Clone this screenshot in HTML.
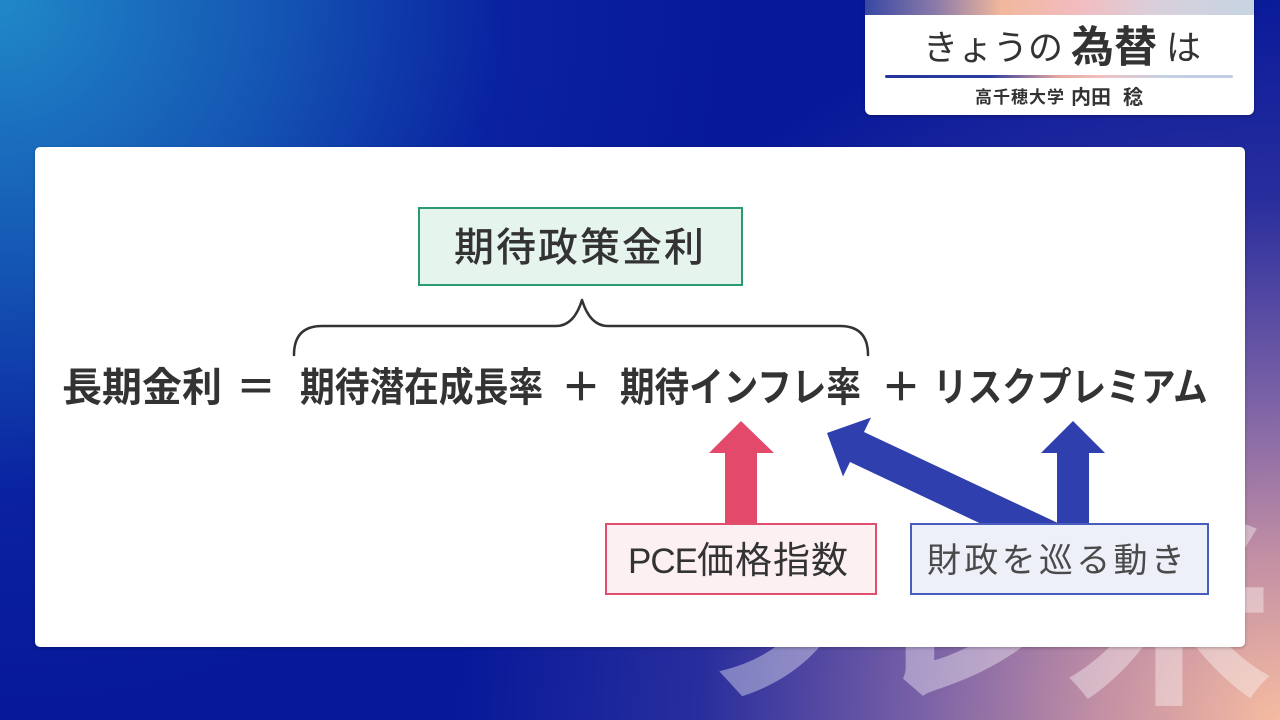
<!DOCTYPE html>
<html lang="ja">
<head>
<meta charset="utf-8">
<style>
  html,body{margin:0;padding:0;width:1280px;height:720px;overflow:hidden;background:#07199a;}
  body{position:relative;font-family:"Liberation Sans","Noto Sans CJK JP",sans-serif;}
  .bg{position:absolute;left:0;top:0;width:1280px;height:720px;
    background:
      radial-gradient(ellipse 1000px 900px at 100% 100%, rgba(246,188,160,1) 0%, rgba(205,150,165,0.95) 18%, rgba(150,115,170,0.8) 36%, rgba(80,70,160,0.45) 58%, rgba(7,26,152,0) 82%),
      radial-gradient(ellipse 820px 800px at 0% 0%, #2088c8 0%, #1558b4 32%, rgba(12,40,165,0.55) 62%, rgba(7,26,152,0) 88%),
      #07199a;}
  .abs{position:absolute;white-space:nowrap;}
  .card{position:absolute;left:35px;top:147px;width:1210px;height:500px;background:#fff;border-radius:5px;box-shadow:0 1px 3px rgba(0,0,0,0.25);}
  .tcard{position:absolute;left:865px;top:-10px;width:389px;height:125px;background:#fff;border-radius:0 0 6px 6px;overflow:hidden;box-shadow:0 1px 3px rgba(0,0,0,0.3);}
  .tband{position:absolute;left:0;top:0;width:100%;height:25px;
    background:linear-gradient(90deg,#3848a4 0%,#8a7aa8 18%,#f1b89c 35%,#f2bcc0 55%,#d8d0dc 75%,#c6d4e2 100%);}
  .eq{font-size:40px;font-weight:700;color:#333;line-height:40px;height:40px;top:368px;transform-origin:0 50%;}
  .wm{font-weight:700;font-size:210px;line-height:210px;color:rgba(255,255,255,0.38);top:510px;}
</style>
</head>
<body>
<div class="bg"></div>

<!-- Watermark (behind card) -->
<div class="abs wm" style="left:676px;">フ</div>
<div class="abs wm" style="left:862px;">レ</div>
<div class="abs wm" style="left:1064px;">米</div>

<!-- Title card -->
<div class="tcard">
  <div class="tband"></div>
</div>
<div class="abs" style="left:923px;top:31px;font-size:35px;line-height:35px;color:#333;">きょうの</div>
<div class="abs" style="left:1071px;top:27px;font-size:43px;line-height:43px;font-weight:700;color:#333;">為替</div>
<div class="abs" style="left:1166px;top:31px;font-size:35px;line-height:35px;color:#333;">は</div>
<div class="abs" style="left:885px;top:75px;width:348px;height:3px;border-radius:2px;background:linear-gradient(90deg,#23349a 0%,#2c3c9e 30%,#e8a8a0 50%,#f0c0c0 62%,#c4d0e2 80%,#c0cce0 100%);"></div>
<div class="abs" style="left:975px;top:89px;font-size:17px;line-height:17px;font-weight:700;color:#333;letter-spacing:1px;">高千穂大学</div>
<div class="abs" style="left:1071px;top:88px;font-size:20px;line-height:20px;font-weight:700;color:#333;">内田</div>
<div class="abs" style="left:1123px;top:88px;font-size:20px;line-height:20px;font-weight:700;color:#333;">稔</div>

<!-- Main card -->
<div class="card"></div>

<!-- Green box -->
<div class="abs" style="left:418px;top:207px;width:321px;height:75px;border:2.5px solid #2a9c70;background:#e6f4ee;"></div>
<div class="abs" style="left:454px;top:228px;font-size:40px;line-height:40px;font-weight:500;color:#333;letter-spacing:2px;">期待政策金利</div>

<!-- Brace + arrows -->
<svg class="abs" style="left:0;top:0;" width="1280" height="720" viewBox="0 0 1280 720">
  <path d="M294,355 Q294,326 322,326 L556,326 Q574,326 582,300 Q590,326 608,326 L840,326 Q868,326 868,355" fill="none" stroke="#333" stroke-width="2.5" stroke-linecap="round" stroke-linejoin="round"/>
  <polygon points="741,421 774,453 757,453 757,524 725,524 725,453 709,453" fill="#e2496b"/>
  <polygon points="1073,421 1105,453 1089,453 1089,524 1057,524 1057,453 1041,453" fill="#2f3fae"/>
  <polygon points="827,433 871,417.5 864,432 1060,524 981.5,524 850,462 843,476.5" fill="#2f3fae"/>
</svg>

<!-- Equation -->
<div class="abs eq" style="left:62px;">長期金利</div>
<div class="abs eq" style="left:236px;">＝</div>
<div class="abs eq" style="left:300px;transform:scaleX(0.868);">期待潜在成長率</div>
<div class="abs eq" style="left:561px;">＋</div>
<div class="abs eq" style="left:620px;transform:scaleX(0.864);">期待インフレ率</div>
<div class="abs eq" style="left:881px;">＋</div>
<div class="abs eq" style="left:933px;transform:scaleX(0.866);">リスクプレミアム</div>

<!-- PCE box -->
<div class="abs" style="left:605px;top:523px;width:268px;height:68px;border:2px solid #e0506e;background:#fcf0f2;"></div>
<div class="abs" style="left:628px;top:543px;font-size:35px;line-height:35px;color:#333;"><span style="letter-spacing:-1px;">PCE</span><span style="font-size:37px;letter-spacing:1px;">価格指数</span></div>

<!-- Fiscal box -->
<div class="abs" style="left:910px;top:523px;width:295px;height:68px;border:2px solid #4a5cbc;background:#eef0f9;"></div>
<div class="abs" style="left:927px;top:544px;font-size:34px;line-height:34px;color:#4a4a4a;letter-spacing:3.3px;">財政を巡る動き</div>

</body>
</html>
